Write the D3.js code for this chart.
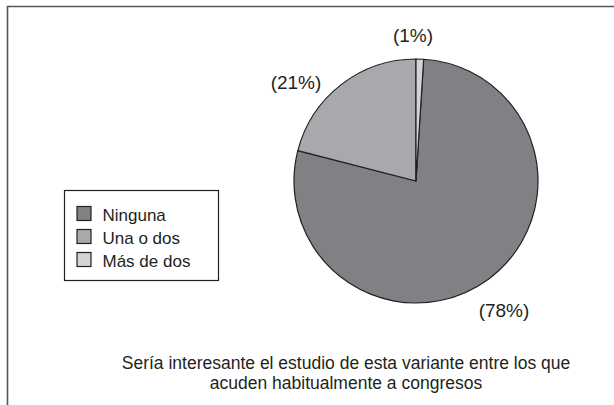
<!DOCTYPE html>
<html>
<head>
<meta charset="utf-8">
<script src="https://cdn.jsdelivr.net/npm/d3@7"></script>
<style>
  body { margin: 0; background: #fff; }
  svg text { font-family: "Liberation Sans", Arial, sans-serif; fill: #231f20; }
</style>
</head>
<body>
<svg width="614" height="405"></svg>
<script>
const categories = ["Ninguna", "Una o dos", "Más de dos"];
const values = [78, 21, 1];
const labels = ["(78%)", "(21%)", "(1%)"];
const captionLines = [
    "Sería interesante el estudio de esta variante entre los que",
    "acuden habitualmente a congresos"
];

const colors = ["#808184", "#a7a9ac", "#d1d3d4"];

const svg = d3.select("svg");

// marco
svg.append("path")
    .attr("d", "M7.5,405V6.5H614")
    .attr("fill", "none")
    .attr("stroke", "#555")
    .attr("stroke-width", 1.6);

const cx = 416, cy = 181, r = 122;

// el 1% empieza a las 12, asi que se rota el inicio
const start = values[2] / 100 * 2 * Math.PI;
const pie = d3.pie().sort(null).value(d => d)
    .startAngle(start).endAngle(start + 2 * Math.PI);
const arcs = pie(values);
const arc = d3.arc().innerRadius(0).outerRadius(r);

const g = svg.append("g").attr("transform", `translate(${cx},${cy})`);

g.selectAll("path")
    .data(arcs)
    .enter()
    .append("path")
    .attr("d", arc)
    .attr("fill", (d, i) => colors[i])
    .attr("stroke", "#231f20")
    .attr("stroke-width", 1.2)
    .attr("stroke-linejoin", "round");

// etiquetas
const labelPos = [[88, 136], [-120, -92], [-3, -139]];
g.selectAll("text.lbl")
    .data(arcs)
    .enter()
    .append("text")
    .attr("class", "lbl")
    .attr("x", (d, i) => labelPos[i][0])
    .attr("y", (d, i) => labelPos[i][1])
    .attr("text-anchor", "middle")
    .attr("font-size", 19)
    .text((d, i) => labels[i]);

// leyenda
const legend = svg.append("g").attr("transform", "translate(64.5,190.5)");
legend.append("rect")
    .attr("width", 154)
    .attr("height", 90)
    .attr("fill", "#fff")
    .attr("stroke", "#231f20")
    .attr("stroke-width", 1.2);

const y = d3.scalePoint().domain(categories).range([23, 69]);

const item = legend.selectAll("g.item")
    .data(categories)
    .enter()
    .append("g")
    .attr("class", "item")
    .attr("transform", d => `translate(0,${y(d)})`);

item.append("rect")
    .attr("x", 12.5)
    .attr("y", -7)
    .attr("width", 14)
    .attr("height", 14)
    .attr("fill", (d, i) => colors[i])
    .attr("stroke", "#231f20")
    .attr("stroke-width", 1.2);

item.append("text")
    .attr("x", 38)
    .attr("y", 7)
    .attr("font-size", 17)
    .text(d => d);

// pie de figura
svg.append("g")
    .selectAll("text")
    .data(captionLines)
    .enter()
    .append("text")
    .attr("x", 346)
    .attr("y", (d, i) => 369 + i * 20)
    .attr("text-anchor", "middle")
    .attr("font-size", 17.5)
    .text(d => d);
</script>
</body>
</html>
